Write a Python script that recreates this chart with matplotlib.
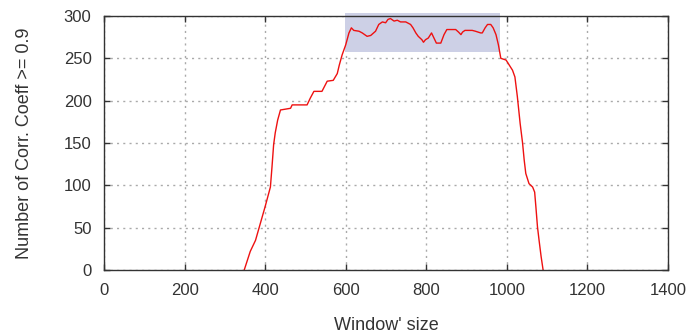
import matplotlib
matplotlib.use('Agg')
import matplotlib.pyplot as plt
from matplotlib.patches import Rectangle

# window size vs number of correlation coefficients >= 0.9
window_size = [348, 363, 376, 388, 400, 413, 417, 421, 425, 431, 438, 463, 467, 504, 512,
               521, 541, 554, 569, 579, 584, 591, 600, 608, 614, 620, 633, 641, 653, 662,
               674, 682, 691, 699, 705, 711, 720, 728, 736, 749, 753, 761, 767, 774, 780,
               789, 793, 798, 805, 813, 819, 825, 836, 844, 851, 873, 880, 886, 890, 896,
               914, 922, 935, 939, 946, 952, 960, 966, 973, 979, 985, 998, 1006, 1014, 1020,
               1026, 1033, 1039, 1043, 1047, 1055, 1064, 1069, 1072, 1076, 1080, 1085, 1090]
n_coeff = [0, 22, 35, 55, 75, 98, 122, 148, 162, 177, 189, 191, 195, 195, 203,
           211, 211, 223, 224, 232, 242, 254, 266, 280, 286, 283, 282, 280, 276, 277,
           282, 290, 293, 292, 296, 297, 294, 295, 293, 293, 292, 290, 286, 280, 276,
           272, 269, 272, 274, 280, 274, 268, 268, 278, 284, 284, 281, 278, 281, 283,
           283, 282, 280, 280, 286, 290, 290, 286, 278, 266, 250, 248, 242, 236, 228,
           205, 173, 150, 130, 114, 102, 98, 92, 75, 51, 35, 16, 0]

# highlighted region
hl_x = [597, 983]
hl_y = [258, 304]

x_ticks = [0, 200, 400, 600, 800, 1000, 1200, 1400]
y_ticks = [0, 50, 100, 150, 200, 250, 300]

plt.rcParams['font.family'] = ['Liberation Sans', 'DejaVu Sans']

fig = plt.figure(figsize=(6.89, 3.36), dpi=100)
ax = fig.add_axes([0.151, 0.1964, 0.8185, 0.756])

ax.add_patch(Rectangle((hl_x[0], hl_y[0]), hl_x[1] - hl_x[0], hl_y[1] - hl_y[0],
                       facecolor='#cdd0e6', edgecolor='none', clip_on=False, zorder=1))
ax.plot(window_size, n_coeff, color='#ee1111', linewidth=1.0, zorder=3)

ax.set_xlim(0, 1400)
ax.set_ylim(0, 300)
ax.set_xticks(x_ticks)
ax.set_yticks(y_ticks)
ax.grid(True, linestyle=(0, (1.5, 3)), color='#aaaaaa', linewidth=1.0, zorder=0)
ax.set_axisbelow(True)
ax.tick_params(direction='in', top=True, right=True, length=4, width=1,
               color='#333333', labelsize=12, labelcolor='#333333', pad=9)
for s in ax.spines.values():
    s.set_color('#333333')
    s.set_linewidth(1.0)
    s.set_zorder(4)

ax.set_xlabel("Window' size", fontsize=13, color='#333333', labelpad=14)
ax.set_ylabel('Number of Corr. Coeff >= 0.9', fontsize=13, color='#333333', labelpad=22)

plt.savefig('out.png', dpi=100)
plt.close()
